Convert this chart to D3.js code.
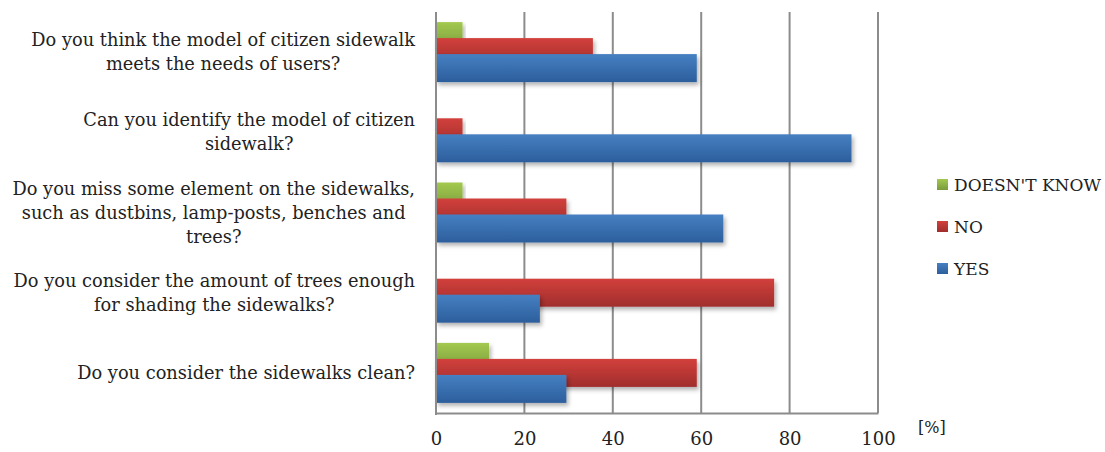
<!DOCTYPE html>
<html>
<head>
<meta charset="utf-8">
<script src="https://cdn.jsdelivr.net/npm/d3@7"></script>
<style>
  body { margin: 0; background: #fff; }
  svg text { font-family: "DejaVu Serif", serif; fill: #222; }
</style>
</head>
<body>
<div id="chart"></div>
<script>
// questions, each is an array of wrapped lines
const questions = [
    ["Do you think the model of citizen sidewalk", "meets the needs of users?"],
    ["Can you identify the model of citizen", "sidewalk?"],
    ["Do you miss some element on the sidewalks,", "such as dustbins, lamp-posts, benches and", "trees?"],
    ["Do you consider the amount of trees enough", "for shading the sidewalks?"],
    ["Do you consider the sidewalks clean?"]
];
const seriesNames = ["DOESN'T KNOW", "NO", "YES"];
const dontKnow = [6, 0, 6, 0, 12];
const no = [35.5, 6, 29.5, 76.5, 59];
const yes = [59, 94, 65, 23.5, 29.5];
const xTicks = [0, 20, 40, 60, 80, 100];

const colors = {
    "DOESN'T KNOW": ["#a3c94f", "#7a9a3c"],
    "NO": ["#d2403c", "#a02e2c"],
    "YES": ["#4680c2", "#2c5e9c"]
};

const width = 1105, height = 452;
const plotLeft = 436, plotRight = 878, plotTop = 12, plotBottom = 413;

let svg = d3.select("#chart").append("svg")
    .attr("width", width)
    .attr("height", height);

let defs = svg.append("defs");
seriesNames.forEach((s, i) => {
    let g = defs.append("linearGradient")
        .attr("id", "grad" + i)
        .attr("x1", 0).attr("y1", 0).attr("x2", 0).attr("y2", 1);
    g.append("stop").attr("offset", "0%").attr("stop-color", colors[s][0]);
    g.append("stop").attr("offset", "100%").attr("stop-color", colors[s][1]);
});
defs.append("filter").attr("id", "shadow")
    .attr("x", "-5%").attr("y", "-20%").attr("width", "115%").attr("height", "160%")
    .append("feDropShadow")
    .attr("dx", 2).attr("dy", 3).attr("stdDeviation", 2)
    .attr("flood-color", "#000").attr("flood-opacity", 0.3);

let x = d3.scaleLinear().domain([0, 100]).range([plotLeft, plotRight]);
let y = d3.scaleBand().domain(d3.range(questions.length)).range([plotTop, plotBottom]);

// gridlines
svg.append("g")
    .selectAll("line")
    .data(xTicks.slice(1))
    .enter()
    .append("line")
    .attr("x1", d => x(d)).attr("x2", d => x(d))
    .attr("y1", plotTop).attr("y2", plotBottom)
    .attr("stroke", "#8c8c8c")
    .attr("stroke-width", 2);

// bars - overlapping like excel
const barH = 28, step = 16;
const data = [dontKnow, no, yes];
data.forEach((vals, si) => {
    let items = vals.map((v, i) => ({v: v, i: i})).filter(d => d.v > 0);
    svg.append("g")
        .selectAll("rect")
        .data(items)
        .enter()
        .append("rect")
        .attr("x", x(0))
        .attr("y", d => y(d.i) + y.bandwidth() / 2 - (barH + 2 * step) / 2 + si * step)
        .attr("width", d => x(d.v) - x(0))
        .attr("height", barH)
        .attr("fill", "url(#grad" + si + ")")
        .attr("filter", "url(#shadow)");
});

// axes
let xAxis = svg.append("g")
    .attr("transform", "translate(0," + plotBottom + ")")
    .call(d3.axisBottom(x).tickValues(xTicks).tickSize(0).tickPadding(19));
xAxis.select(".domain").attr("stroke", "#8c8c8c").attr("stroke-width", 2);
xAxis.selectAll("text")
    .style("font-family", "DejaVu Serif, serif")
    .style("font-size", "18px")
    .attr("fill", "#222");

svg.append("line")
    .attr("x1", x(0)).attr("x2", x(0))
    .attr("y1", plotTop).attr("y2", plotBottom + 2)
    .attr("stroke", "#8c8c8c")
    .attr("stroke-width", 2);

svg.append("text")
    .attr("x", 918).attr("y", 433)
    .style("font-size", "16px")
    .text("[%]");

// category labels
const labelRight = 415, lineH = 24;
questions.forEach((lines, i) => {
    let t = svg.append("text")
        .style("font-size", "17.8px")
        .attr("text-anchor", "middle");
    let cy = y(i) + y.bandwidth() / 2;
    let y0 = cy - (lines.length - 1) * lineH / 2 + 6;
    let spans = lines.map((l, k) => t.append("tspan").attr("y", y0 + k * lineH).text(l));
    let maxW = d3.max(spans, s => s.node().getComputedTextLength());
    spans.forEach(s => s.attr("x", labelRight - maxW / 2));
});

// legend
let legend = svg.append("g");
seriesNames.forEach((s, i) => {
    legend.append("rect")
        .attr("x", 937).attr("y", 179 + i * 42)
        .attr("width", 11).attr("height", 11)
        .attr("fill", "url(#grad" + i + ")");
    legend.append("text")
        .attr("x", 954).attr("y", 191 + i * 42)
        .style("font-size", "17px")
        .text(s);
});
</script>
</body>
</html>
